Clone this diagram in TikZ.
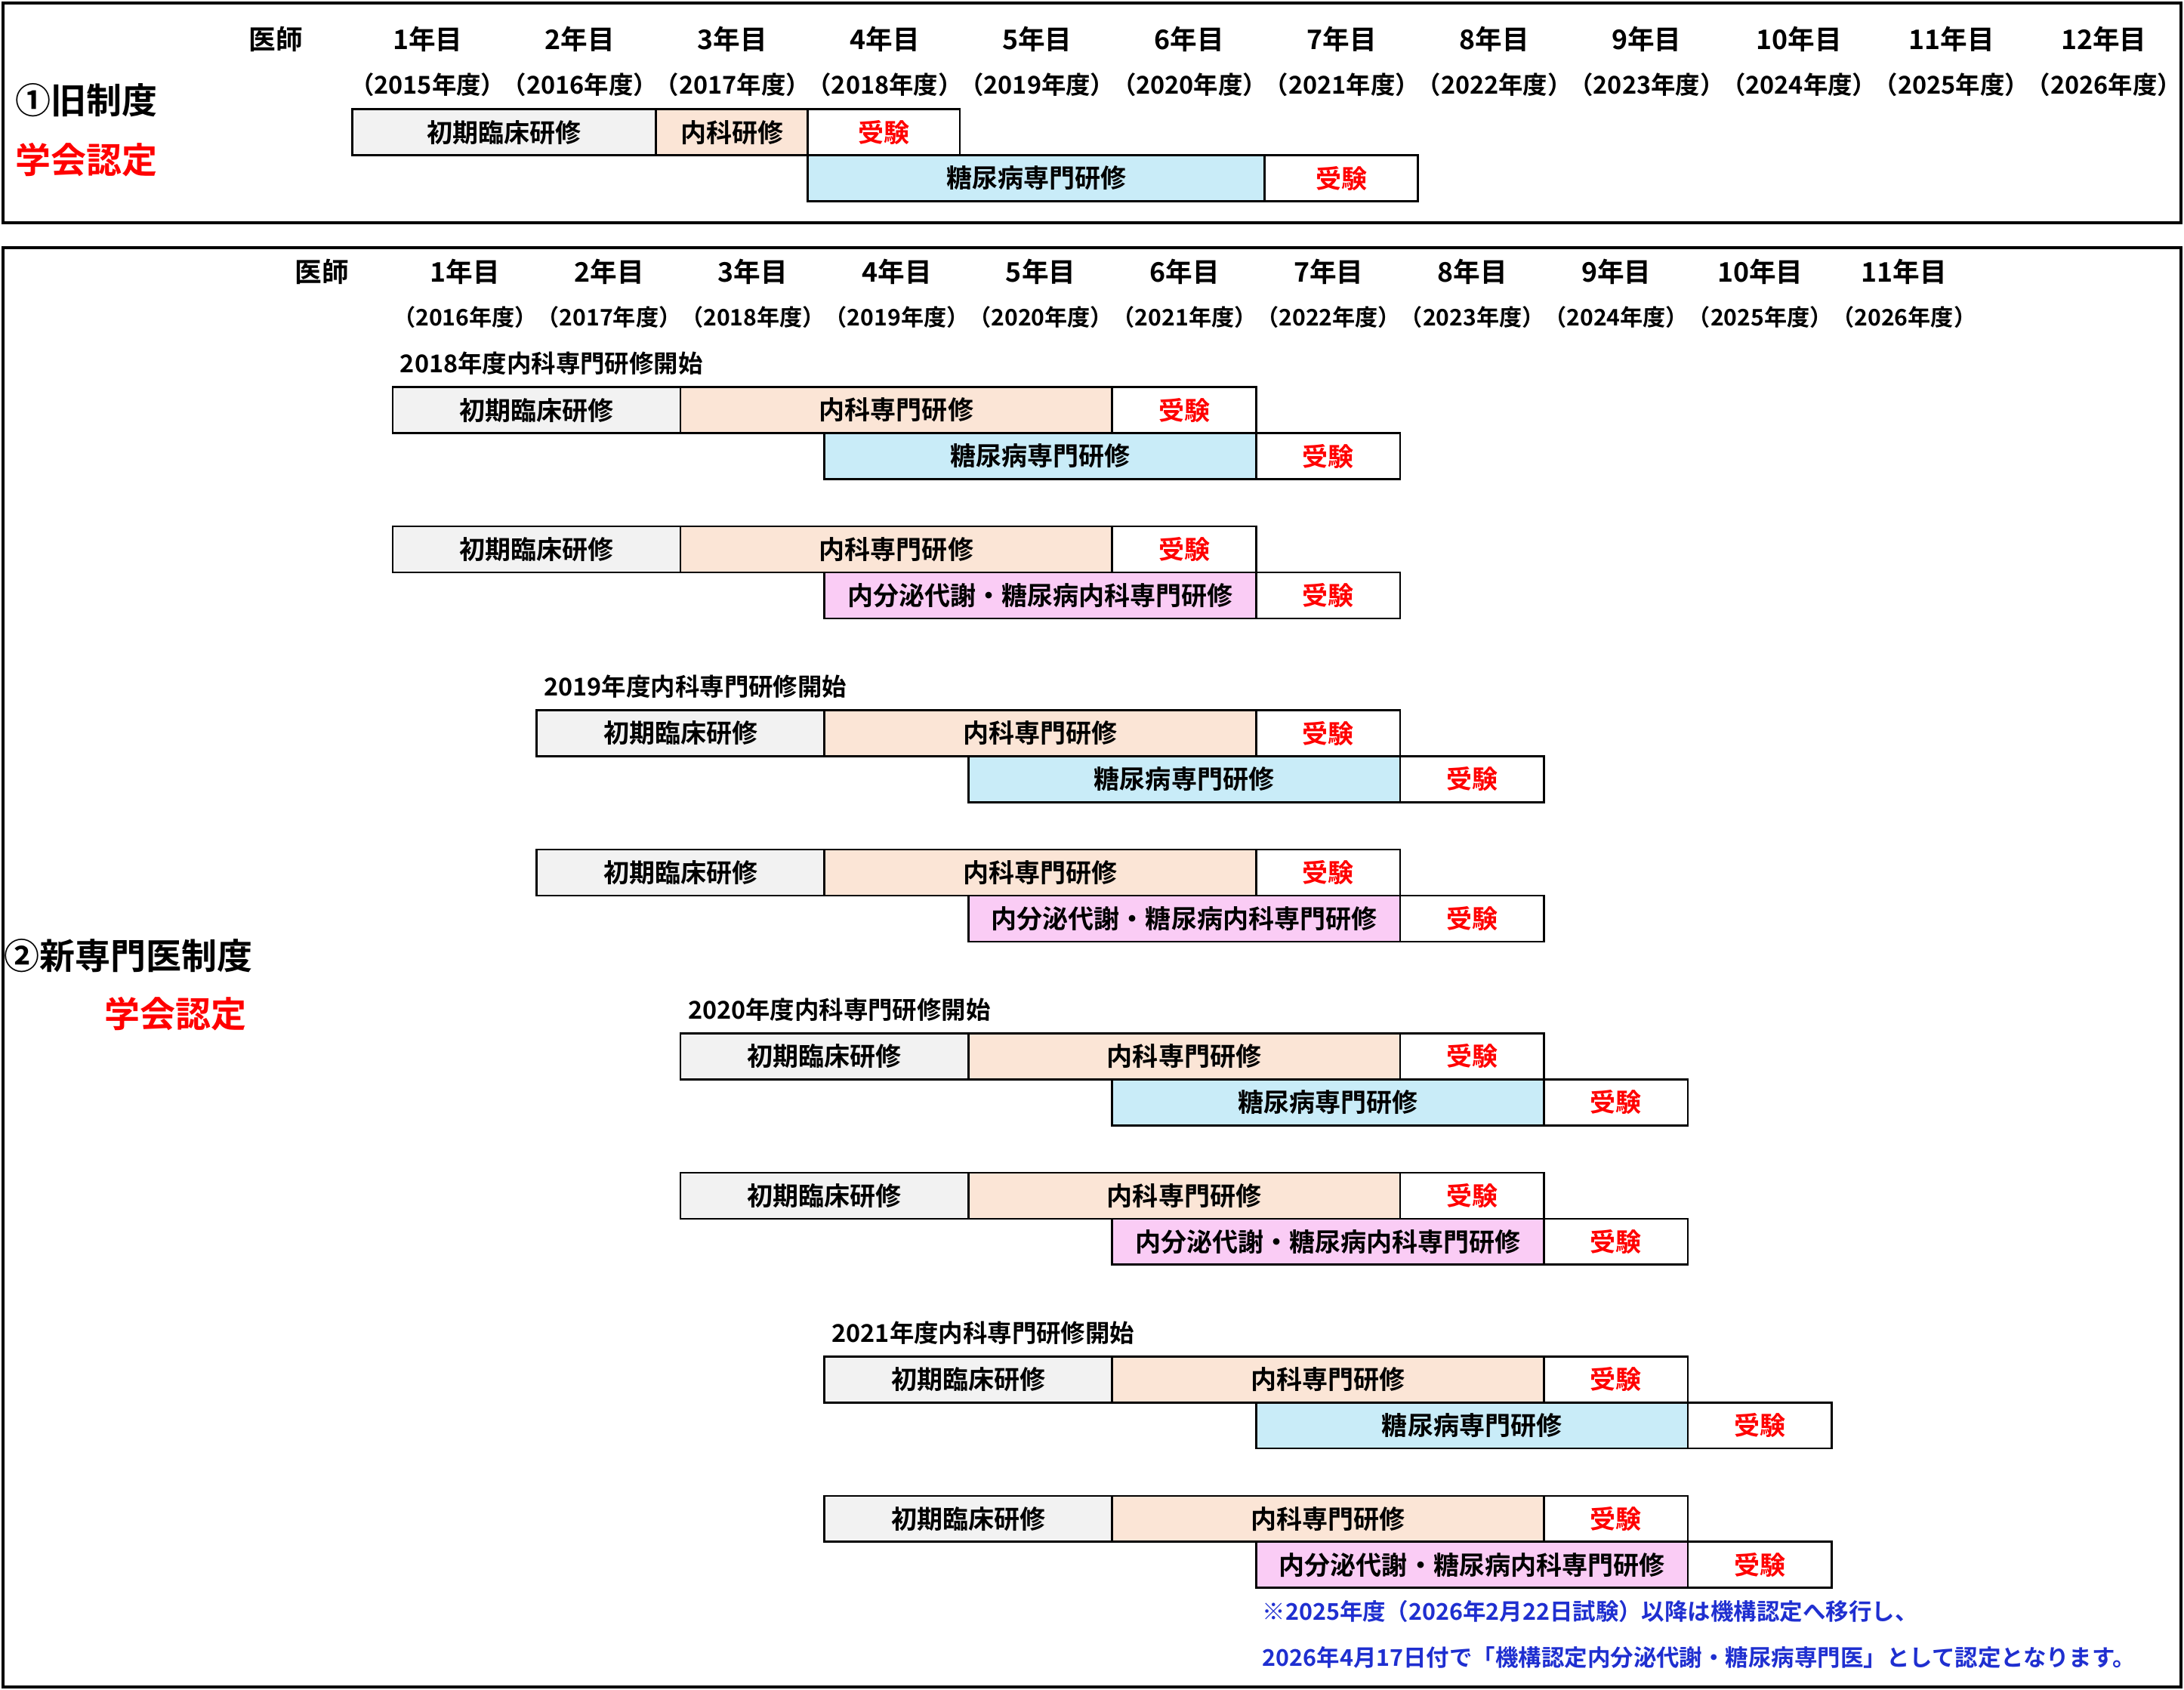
\documentclass[tikz,border=0pt]{standalone}
\usepackage{fontspec}
\setmainfont{Noto Sans CJK JP}[BoldFont={Noto Sans CJK JP Bold}]
\usetikzlibrary{positioning}
\definecolor{grayfill}{HTML}{F2F2F2}
\definecolor{peachfill}{HTML}{FBE5D6}
\definecolor{bluefill}{HTML}{C9ECF8}
\definecolor{pinkfill}{HTML}{FACCF5}
\definecolor{notecol}{HTML}{1F2FD0}
\tikzstyle{bar}=[rectangle,draw=black,thick,inner sep=0pt,minimum height=0.66cm,font=\fontsize{10.5}{13}\selectfont\bfseries]
\tikzstyle{exam}=[bar,fill=white,text=red]
\tikzstyle{lbl}=[inner sep=0pt,font=\fontsize{11}{13}\selectfont\bfseries]
\tikzstyle{fy}=[inner sep=0pt,font=\fontsize{10}{12}\selectfont\bfseries]
\tikzstyle{title}=[inner sep=0pt,font=\fontsize{14.5}{17}\selectfont\bfseries]
\begin{document}
\begin{tikzpicture}[x=0.02cm,y=-0.02cm]
\def \w {109.4};
\def \v {103.3};
\useasboundingbox (0,0) rectangle (1568,1213);
\draw[line width=1.2pt] (2,2) rectangle (1566,160);
\draw[line width=1.2pt] (2,178) rectangle (1566,1211);

% old system
\node[title] (old) at (62,72) {①旧制度};
\node[title,text=red] (oldcert) at (62,115) {学会認定};
\node[lbl] (oldhead) at (198,28) {医師};
\foreach \i in {1,...,12} {
	\pgfmathtruncatemacro{\yr}{2014 + \i};
	\node[lbl] (oy\i) at (307 + \i*\w - \w, 28) {\i 年目};
	\node[fy] (of\i) at (307 + \i*\w - \w, 61) {（\yr 年度）};
};
\node[bar,fill=grayfill,minimum width=218*0.02cm] (oa) at (362,95) {初期臨床研修};
\node[bar,fill=peachfill,minimum width=109*0.02cm] (ob) at (525.5,95) {内科研修};
\node[exam,minimum width=109*0.02cm] (oc) at (634.5,95) {受験};
\node[bar,fill=bluefill,minimum width=328*0.02cm] (od) at (744,128) {糖尿病専門研修};
\node[exam,minimum width=110*0.02cm] (oe) at (963,128) {受験};

% new system
\node[title] (new) at (92,686) {②新専門医制度};
\node[title,text=red] (newcert) at (126,728) {学会認定};
\node[lbl] (newhead) at (231,195) {医師};
\foreach \i in {1,...,11} {
	\pgfmathtruncatemacro{\yr}{2015 + \i};
	\node[lbl] (ny\i) at (334 + \i*\v - \v, 195) {\i 年目};
	\node[fy,font=\fontsize{9.3}{12}\selectfont\bfseries] (nf\i) at (334 + \i*\v - \v, 228) {（\yr 年度）};
};
\foreach \k in {0,...,3} {
	\pgfmathsetmacro{\x}{282 + \k*\v};
	\pgfmathsetmacro{\y}{261 + \k*232};
	\pgfmathtruncatemacro{\yr}{2018 + \k};
	\node[fy,anchor=west] (start\k) at (\x + 5, \y) {\yr 年度内科専門研修開始};
	\foreach \r/\dy/\sub/\col in {a/0/糖尿病専門研修/bluefill, b/100/内分泌代謝・糖尿病内科専門研修/pinkfill} {
		\node[bar,fill=grayfill,minimum width=2*\v*0.02cm] (ini\k\r) at (\x + \v, \y + \dy + 33.5) {初期臨床研修};
		\node[bar,fill=peachfill,minimum width=3*\v*0.02cm] (int\k\r) at (\x + 3.5*\v, \y + \dy + 33.5) {内科専門研修};
		\node[exam,minimum width=\v*0.02cm] (ex\k\r) at (\x + 5.5*\v, \y + \dy + 33.5) {受験};
		\node[bar,fill=\col,minimum width=3*\v*0.02cm] (sp\k\r) at (\x + 4.5*\v, \y + \dy + 66.5) {\sub};
		\node[exam,minimum width=\v*0.02cm] (sx\k\r) at (\x + 6.5*\v, \y + \dy + 66.5) {受験};
	};
};
\node[lbl,anchor=west,text=notecol,font=\fontsize{9.4}{12}\selectfont\bfseries] (note1) at (906,1157) {※2025年度（2026年2月22日試験）以降は機構認定へ移行し、};
\node[lbl,anchor=west,text=notecol,font=\fontsize{9.4}{12}\selectfont\bfseries] (note2) at (906,1190) {2026年4月17日付で「機構認定内分泌代謝・糖尿病専門医」として認定となります。};
\end{tikzpicture}
\end{document}
